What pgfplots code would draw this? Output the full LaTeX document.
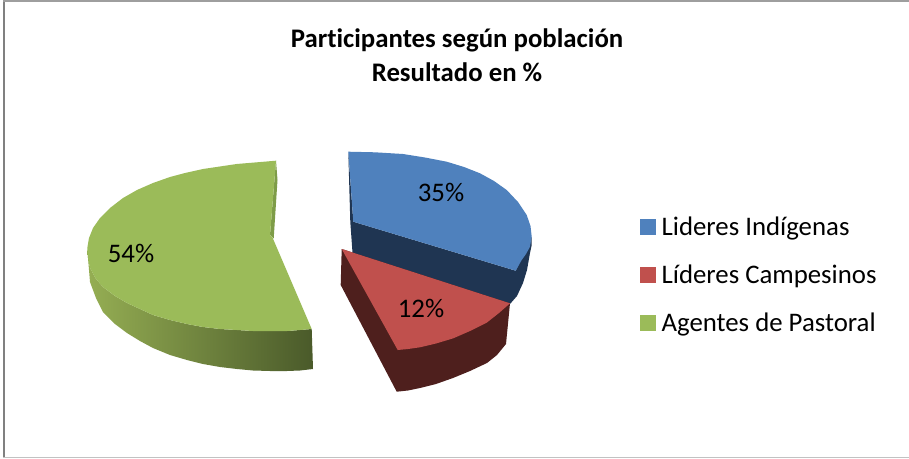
\documentclass[border=0pt]{standalone}
\usepackage{fontspec}
\setmainfont[Ligatures=NoCommon]{Carlito}
\usepackage{pgfplots}
\pgfplotsset{compat=1.18}
\definecolor{cblue}{HTML}{4F81BD}
\definecolor{cred}{HTML}{C0504D}
\definecolor{cgreen}{HTML}{9BBB59}
\definecolor{wblue}{HTML}{1F3552}
\definecolor{wred}{HTML}{4E1F1D}
\definecolor{wgreen}{HTML}{7E9C48}
\definecolor{gwl}{HTML}{95AE53}
\definecolor{gwr}{HTML}{4A5A2A}
\begin{document}
\begin{tikzpicture}
\begin{axis}[
  scale only axis, width=909pt, height=458pt,
  xmin=0, xmax=909, ymin=0, ymax=458, y dir=reverse,
  hide axis, clip=true,
  legend style={draw=none, fill=none, at={(axis cs:640,214.5)}, anchor=north west,
    font=\fontsize{26.8}{31}\selectfont, row sep=24pt, inner sep=0pt,
    legend cell align=left, /tikz/every even column/.style={column sep=0pt}},
]
% frame
\addplot[draw=none, fill=white, forget plot] coordinates {(0,0) (909,0) (909,458) (0,458)} -- cycle;
\addplot[draw=none, fill=black!50, forget plot] coordinates {(3,0) (5,0) (5,458) (3,458)} -- cycle;
\addplot[draw=none, fill=black!38, forget plot] coordinates {(3,0) (909,0) (909,1.6) (3,1.6)} -- cycle;
\addplot[draw=none, fill=black!24, forget plot] coordinates {(3,456.8) (909,456.8) (909,458) (3,458)} -- cycle;

% blue wall
\addplot[draw=none, fill=wblue, forget plot] coordinates {
(348.3,151.7) (353.3,221.7) (515.7,270.7) (531.7,236.7) (531.5,246) (530,253) (527,270) (523,283) (517,296) (510,304) (500,320) (352.3,270) (352.3,250) (350.3,222)} -- cycle;
% blue top
\addplot[draw=none, fill=cblue, forget plot] coordinates {
(348.3,151.7) (375,152.3) (403,154) (425,157.5) (446.7,161.7) (464,167) (480,173.3) (494,181) (506.7,190) (518,202) (526.7,215) (530.5,226) (531.7,236.7) (530,246.7) (526,254) (521.7,260) (515.7,270.7) (353.3,221.7)} -- cycle;

% red walls
\addplot[draw=none, fill=wred, forget plot] coordinates {
(341.7,249) (510,303.3) (506,344) (497,355) (487,363) (470,371) (453,378) (436,384) (420,388) (408,390.5) (396.7,391.7) (340.7,285)} -- cycle;
% red top
\addplot[draw=none, fill=cred, forget plot] coordinates {
(341.7,249) (510,303.3) (499,313) (486.7,322.7) (470,331) (453.3,338.3) (436,343.5) (420,347.3) (408,349) (397.7,350)} -- cycle;

% green cut wall
\addplot[draw=none, fill=wgreen, forget plot] coordinates {(276,160.7) (277.5,180) (273.7,238.5) (270,235)} -- cycle;
% green outer wall, shaded from left to right
\addplot[draw=none, left color=gwl, right color=gwr, forget plot] coordinates {
(87.5,250) (90,268) (96,279) (103,287) (115,296) (127,303) (140,309) (153,315) (170,320) (187,324) (203,327) (220,329) (237,330) (253,331) (270,331) (287,331) (300,330) (311.7,329)
(313,369) (300,370.5) (287,371) (270,371) (253,370.5) (237,369) (220,367) (203,364) (187,360) (170,355) (153,348) (140,341) (127,333) (115,324) (103,312) (96,298) (90,282) (87.5,252)} -- cycle;
% green top
\addplot[draw=none, fill=cgreen, forget plot] coordinates {
(276,160.7) (236.7,164) (203,169) (185,173) (170,177) (153,183) (137,190) (123,198) (110,208) (100,218) (93,228) (89,238) (87.3,248) (88,258) (90,268) (96,279) (103,287) (115,296) (127,303) (140,309) (153,315) (170,320) (187,324) (203,327) (220,329) (237,330) (253,331) (270,331) (287,331) (300,330) (311.7,329) (272.7,238) (270,235)} -- cycle;

% labels
\node[font=\fontsize{26.8}{31}\selectfont, inner sep=0pt] at (axis cs:441,192.5) {35\%};
\node[font=\fontsize{26.8}{31}\selectfont, inner sep=0pt] at (axis cs:421,308.5) {12\%};
\node[font=\fontsize{26.8}{31}\selectfont, inner sep=0pt] at (axis cs:131,253.5) {54\%};
\node[font=\bfseries\fontsize{26.8}{34}\selectfont, align=center, inner sep=0pt] at (axis cs:457,55) {Participantes según población\\Resultado en \%};

% legend
\addlegendimage{legend image code/.code={\fill[cblue] (0pt,-7.5pt) rectangle (15pt,7.5pt);\path (19pt,0pt);}}
\addlegendentry{Lideres Indígenas}
\addlegendimage{legend image code/.code={\fill[cred] (0pt,-7.5pt) rectangle (15pt,7.5pt);\path (19pt,0pt);}}
\addlegendentry{Líderes Campesinos}
\addlegendimage{legend image code/.code={\fill[cgreen] (0pt,-7.5pt) rectangle (15pt,7.5pt);\path (19pt,0pt);}}
\addlegendentry{Agentes de Pastoral}
\end{axis}
\end{tikzpicture}
\end{document}
